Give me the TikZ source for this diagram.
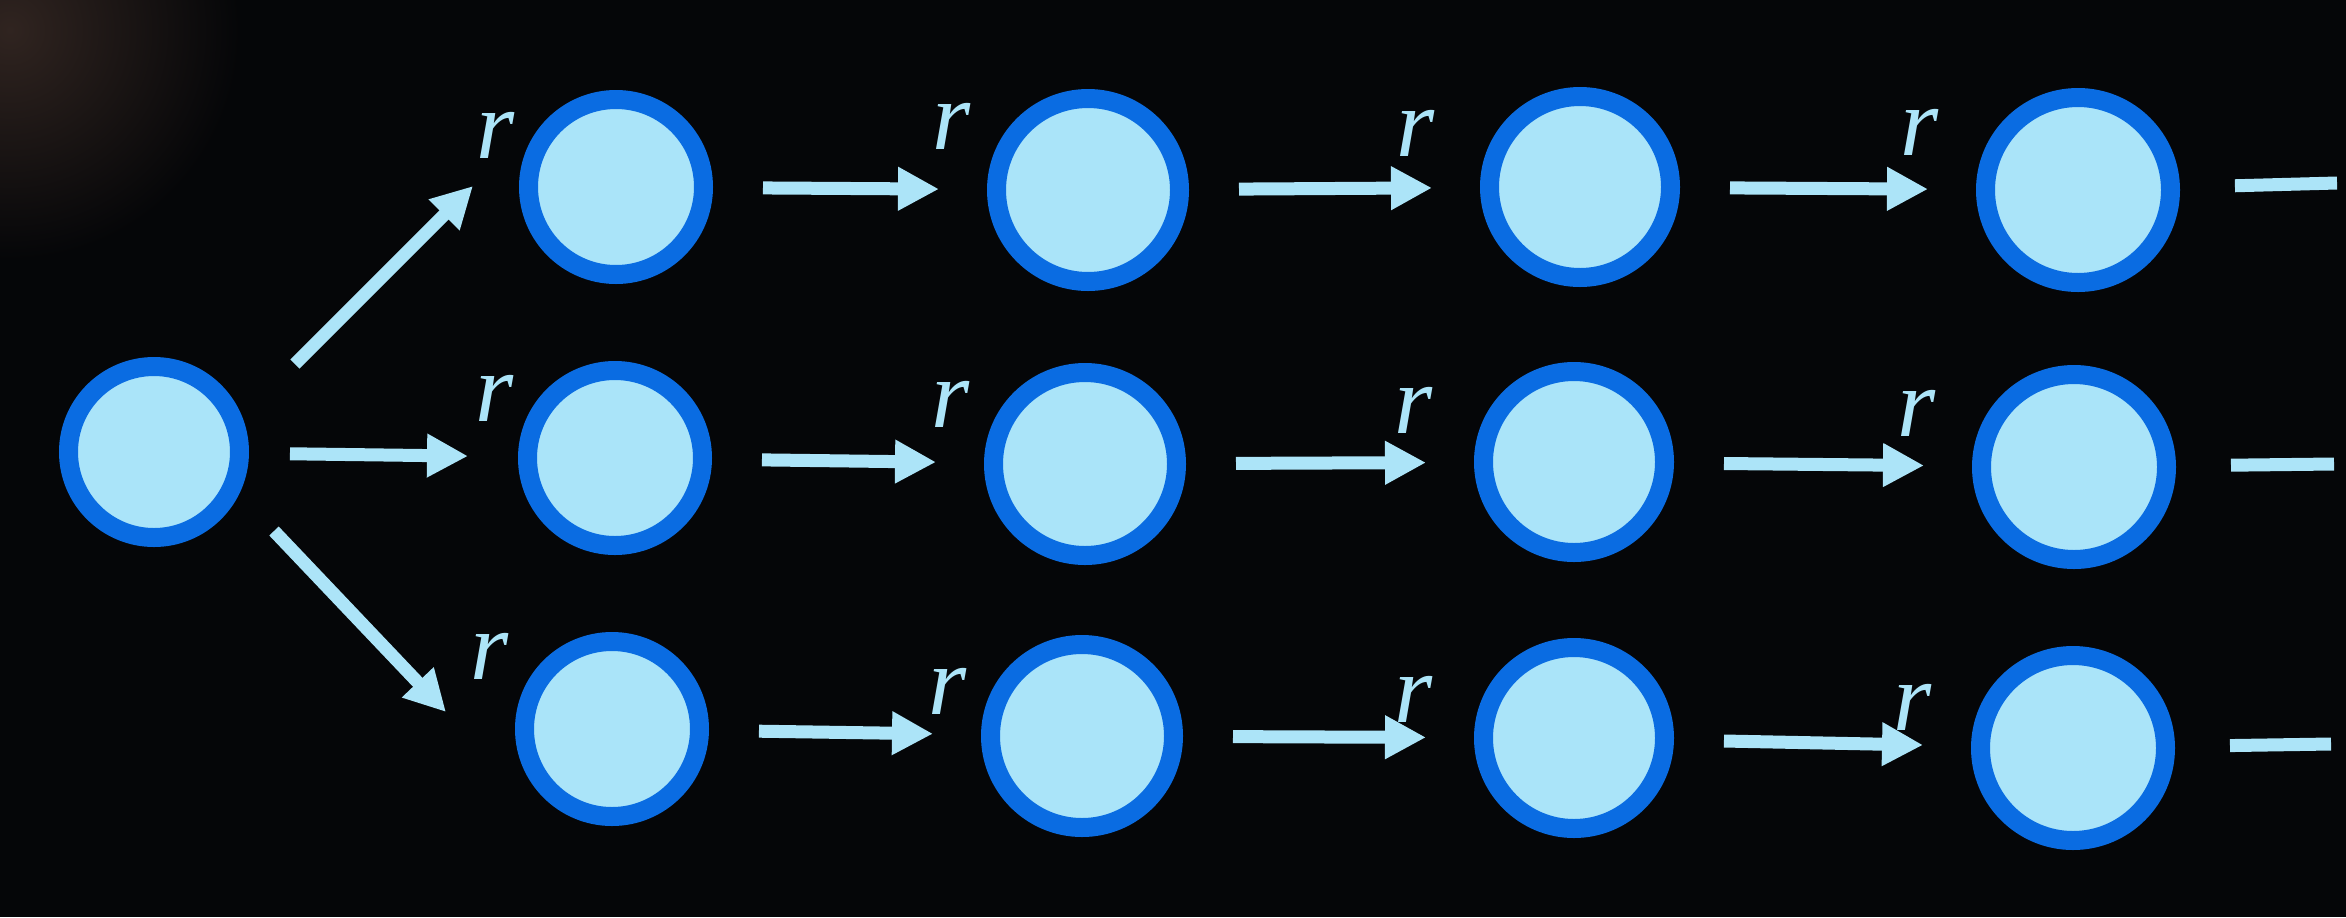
\documentclass[tikz,border=0pt]{standalone}
\usepackage{fontspec}
\setmainfont{Liberation Serif}
\usetikzlibrary{arrows.meta,calc}
\definecolor{bg}{RGB}{5,6,8}
\definecolor{glow}{RGB}{48,36,32}
\definecolor{ringblue}{RGB}{10,108,226}
\definecolor{ringfill}{RGB}{170,228,249}
\definecolor{arrowc}{RGB}{172,228,248}
\begin{document}
\begin{tikzpicture}[x=0.5pt,y=-0.5pt,
  ring/.style={circle,draw=ringblue,line width=9.5pt,fill=ringfill,inner sep=0pt,minimum size={(#1-9.5)*1pt}},
  conn/.style={draw=arrowc,line width=6.5pt},
  tip/.style={-{Triangle[length=20.5pt,width=20.5pt]}},
  arr/.style={conn,tip,shorten <=25pt,shorten >=24pt},
  tail/.style={conn,shorten <=27.5pt},
  lab/.style={text=arrowc,font=\fontsize{49}{49}\selectfont\itshape,inner sep=0pt}]
\fill[bg] (0,0) rectangle (2346,917);
\useasboundingbox (0,0) rectangle (2346,917);
\shade[inner color=glow,outer color=bg] (10,30) circle (230);
% nodes
\node[ring=95]  (root) at (154,452) {};
\node[ring=97]  (n11) at (616,187) {};
\node[ring=101] (n12) at (1088,190) {};
\node[ring=100] (n13) at (1580,187) {};
\node[ring=102] (n14) at (2078,190) {};
\node[ring=97]  (n21) at (615,458) {};
\node[ring=101] (n22) at (1085,464) {};
\node[ring=100] (n23) at (1574,462) {};
\node[ring=102] (n24) at (2074,467) {};
\node[ring=97]  (n31) at (612,729) {};
\node[ring=101] (n32) at (1082,736) {};
\node[ring=100] (n33) at (1574,738) {};
\node[ring=102] (n34) at (2073,748) {};
\coordinate (e1) at (2337,183);
\coordinate (e2) at (2334,464);
\coordinate (e3) at (2331,744);
% connectors from root
\draw[conn,tip] ($(root)+(141,-88)$) -- ($(n11)+(-143,-1)$);
\draw[arr,shorten <=20.5pt,shorten >=25pt] (root) -- (n21);
\draw[conn,tip] ($(root)+(120,79)$) -- ($(n31)+(-166,-17)$);
% chains
\draw[arr] (n11) -- (n12);
\draw[arr] (n12) -- (n13);
\draw[arr] (n13) -- (n14);
\draw[tail] (n14) -- (e1);
\draw[arr] (n21) -- (n22);
\draw[arr] (n22) -- (n23);
\draw[arr] (n23) -- (n24);
\draw[tail] (n24) -- (e2);
\draw[arr] (n31) -- (n32);
\draw[arr] (n32) -- (n33);
\draw[arr] (n33) -- (n34);
\draw[tail] (n34) -- (e3);
% labels
\node[lab] (r11) at (496,135) {r};
\node[lab] (r12) at (952,126) {r};
\node[lab] (r13) at (1416,133) {r};
\node[lab] (r14) at (1920,132) {r};
\node[lab] (r21) at (495,398) {r};
\node[lab] (r22) at (951,404) {r};
\node[lab] (r23) at (1414,410) {r};
\node[lab] (r24) at (1917,413) {r};
\node[lab] (r31) at (490,656) {r};
\node[lab] (r32) at (948,691) {r};
\node[lab] (r33) at (1414,699) {r};
\node[lab] (r34) at (1913,707) {r};
\end{tikzpicture}
\end{document}
